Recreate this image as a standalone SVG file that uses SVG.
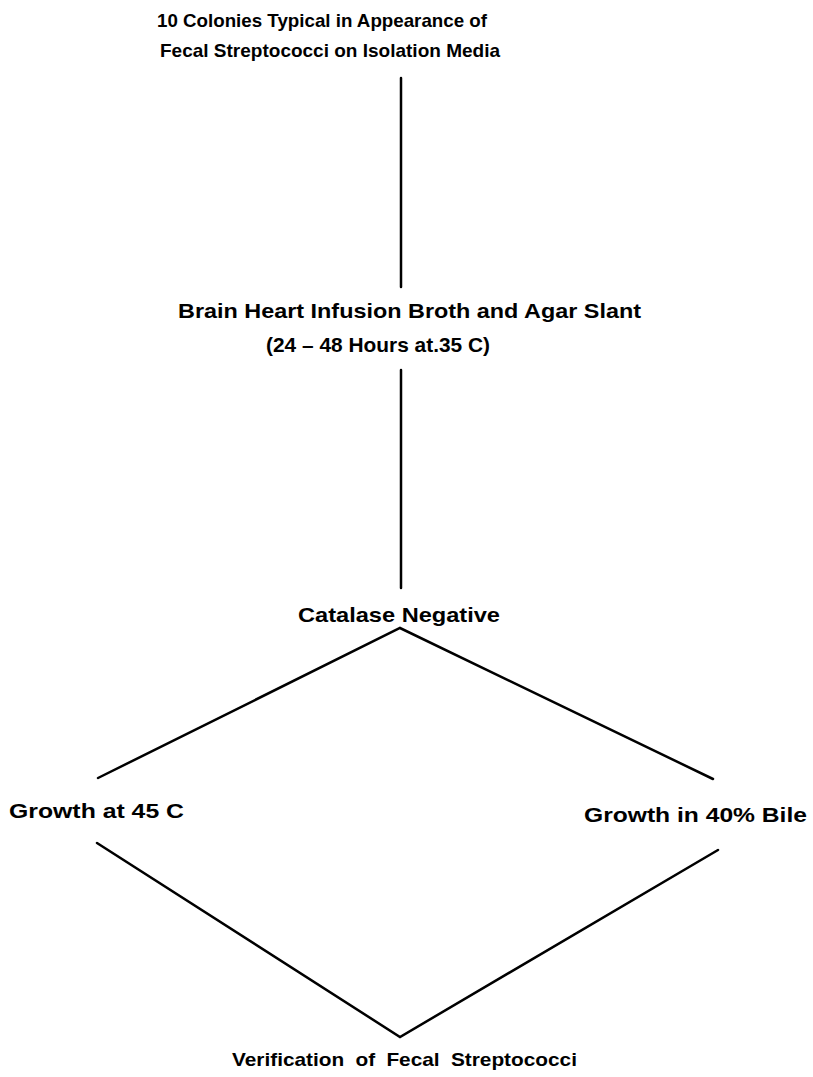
<svg xmlns="http://www.w3.org/2000/svg" width="813" height="1077" viewBox="0 0 813 1077">
  <style>
    /* wide typewriter-style face for heading and result */
    .wide { font-family: "Liberation Sans", Arial, sans-serif; font-size: 19px; font-weight: bold; fill: #000; }
    /* taller, tighter face for the intermediate steps */
    .step { font-family: "Liberation Sans", Arial, sans-serif; font-size: 21px; font-weight: bold; fill: #000; }
    .edge { stroke: #000; stroke-width: 2.5; fill: none; stroke-linecap: round; stroke-linejoin: miter; }
  </style>
  <rect width="813" height="1077" fill="#fff"/>

  <g id="connectors">
    <line class="edge" x1="401" y1="78" x2="401" y2="287"/>
    <line class="edge" x1="401" y1="370" x2="401" y2="588"/>
    <polyline class="edge" points="98,778 400,628 713,779"/>
    <polyline class="edge" points="97,843 400,1037 718,850"/>
  </g>

  <g id="colonies">
    <text class="wide" x="157" y="27" textLength="330" lengthAdjust="spacingAndGlyphs">10 Colonies Typical in Appearance of</text>
    <text class="wide" x="160" y="57" textLength="340" lengthAdjust="spacingAndGlyphs">Fecal Streptococci on Isolation Media</text>
  </g>

  <g id="bhi-broth">
    <text class="step" x="178" y="318" textLength="463" lengthAdjust="spacingAndGlyphs">Brain Heart Infusion Broth and Agar Slant</text>
    <text class="step" x="266" y="352" textLength="224" lengthAdjust="spacingAndGlyphs">(24 – 48 Hours at.35 C)</text>
  </g>

  <g id="catalase">
    <text class="step" x="298" y="622" textLength="202" lengthAdjust="spacingAndGlyphs">Catalase Negative</text>
  </g>

  <g id="growth-45">
    <text class="step" x="9" y="818" textLength="175" lengthAdjust="spacingAndGlyphs">Growth at 45 C</text>
  </g>

  <g id="growth-bile">
    <text class="step" x="584" y="822" textLength="223" lengthAdjust="spacingAndGlyphs">Growth in 40% Bile</text>
  </g>

  <g id="verification">
    <text class="wide" x="232" y="1066" word-spacing="5" textLength="345" lengthAdjust="spacingAndGlyphs">Verification of Fecal Streptococci</text>
  </g>
</svg>
